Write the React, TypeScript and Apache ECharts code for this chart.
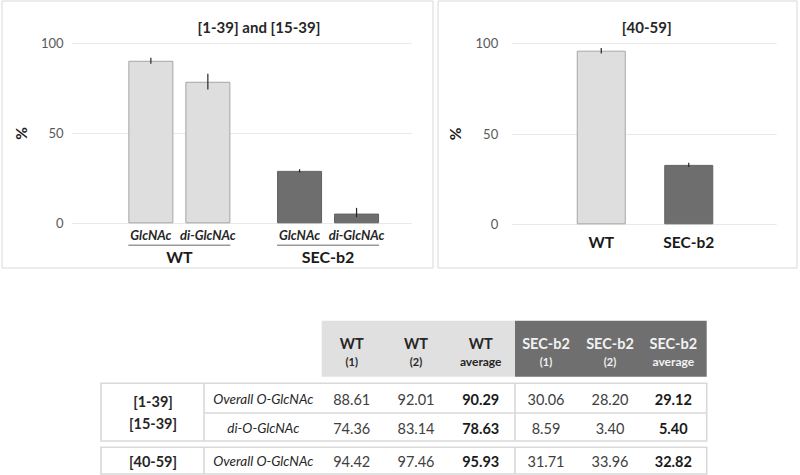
import React, { useEffect, useRef } from "react";
import * as echarts from "echarts";

// ---------- data ----------
const groups = ["WT", "SEC-b2"];
const subLabels = ["GlcNAc", "di-GlcNAc"];
const titleLeft = "[1-39] and [15-39]";
const titleRight = "[40-59]";
const yTicks = [0, 50, 100];

const headerTop = ["WT", "WT", "WT", "SEC-b2", "SEC-b2", "SEC-b2"];
const headerSub = ["(1)", "(2)", "average", "(1)", "(2)", "average"];
const rowRegions = ["[1-39]\n[15-39]", "[40-59]"];
const rowLabels = ["Overall O-GlcNAc", "di-O-GlcNAc", "Overall O-GlcNAc"];

const wt1 = [88.61, 74.36, 94.42];
const wt2 = [92.01, 83.14, 97.46];
const wtAvg = [90.29, 78.63, 95.93];
const sec1 = [30.06, 8.59, 31.71];
const sec2 = [28.2, 3.4, 33.96];
const secAvg = [29.12, 5.4, 32.82];

// ---------- styles ----------
const FONT = "Lato";
const LIGHT = "#dedede";
const LIGHT_BORDER = "#a6a6a6";
const DARK = "#6e6e6e";
const DARK_BORDER = "#626262";
const GRID_LINE = "#e9e9e9";
const PANEL_BORDER = "#d9d9d9";
const BAR_W_L = 45;
const BAR_GAP_L = 12;
const BAR_W_R = 49;

const lo = (a: number, b: number) => Math.min(a, b);
const hi = (a: number, b: number) => Math.max(a, b);

function errorSeries(name: string, xIdx: number, data: number[][], offset: number) {
  return {
    type: "custom",
    name,
    xAxisIndex: xIdx,
    yAxisIndex: xIdx,
    z: 10,
    encode: { x: 0, y: [1, 2] },
    data,
    renderItem: (_p: any, api: any) => {
      const a = api.coord([api.value(0), api.value(1)]);
      const b = api.coord([api.value(0), api.value(2)]);
      return {
        type: "line",
        shape: { x1: a[0] + offset, y1: a[1], x2: b[0] + offset, y2: b[1] },
        style: { stroke: "#262626", lineWidth: 1.2 },
      };
    },
  };
}

function txt(x: number, y: number, text: string, size: number, opts: any = {}) {
  return {
    type: "text",
    x,
    y,
    silent: true,
    style: {
      text,
      fontFamily: FONT,
      fontSize: size,
      fontWeight: opts.bold ? "bold" : "normal",
      fontStyle: opts.italic ? "italic" : "normal",
      fill: opts.fill || "#404040",
      align: "center",
      verticalAlign: "middle",
      textAlign: "center",
      textVerticalAlign: "middle",
      lineHeight: opts.lineHeight || size * 1.2,
    },
  };
}

function buildTable() {
  const els: any[] = [];
  const colX = [351.7, 416, 480.7, 546, 610, 673.3];
  const xL = 101, xC1 = 204, xMid = 515, xR = 706.7, xHead = 321.7;
  const hTop = 320.7, hBot = 376.7;
  // header blocks
  els.push({ type: "rect", shape: { x: xHead, y: hTop, width: xMid - xHead, height: hBot - hTop }, style: { fill: "#e0e0e0" } });
  els.push({ type: "rect", shape: { x: xMid, y: hTop, width: xR - xMid, height: hBot - hTop }, style: { fill: "#6f6f6f" } });
  headerTop.forEach((t, i) => {
    const dark = i >= 3;
    const fill = dark ? "#f2f2f2" : "#262626";
    els.push(txt(colX[i], 343.3, t, 14.5, { bold: true, fill }));
    els.push(txt(colX[i], 361, headerSub[i], headerSub[i] === "average" ? 12 : 11, { bold: true, fill }));
  });
  // body borders
  const blocks = [
    { y0: 383.3, y1: 441 },
    { y0: 447.3, y1: 474 },
  ];
  const lineStyle = { stroke: PANEL_BORDER, lineWidth: 1.6 };
  blocks.forEach((b) => {
    els.push({ type: "rect", shape: { x: xL, y: b.y0, width: xR - xL, height: b.y1 - b.y0 }, style: { fill: "none", ...lineStyle } });
    els.push({ type: "line", shape: { x1: xC1, y1: b.y0, x2: xC1, y2: b.y1 }, style: lineStyle });
    els.push({ type: "line", shape: { x1: xMid, y1: b.y0, x2: xMid, y2: b.y1 }, style: lineStyle });
  });
  els.push({ type: "line", shape: { x1: xC1, y1: 413, x2: xR, y2: 413 }, style: lineStyle });
  // region labels
  els.push(txt(153, 412.5, rowRegions[0], 14.5, { bold: true, fill: "#262626", lineHeight: 21.6 }));
  els.push(txt(153, 461, rowRegions[1], 14.5, { bold: true, fill: "#262626" }));
  // row labels and values
  const rowY = [399, 428.3, 461];
  const cols = [wt1, wt2, wtAvg, sec1, sec2, secAvg];
  rowLabels.forEach((r, ri) => {
    els.push(txt(263.3, rowY[ri], r, 13.5, { italic: true, fill: "#262626" }));
    cols.forEach((c, ci) => {
      const bold = ci === 2 || ci === 5;
      els.push(txt(colX[ci], rowY[ri], c[ri].toFixed(2), 14.5, { bold, fill: bold ? "#1a1a1a" : "#404040" }));
    });
  });
  return els;
}

export default function App() {
  const ref = useRef<HTMLDivElement>(null);
  useEffect(() => {
    if (!ref.current) return;
    const chart = echarts.init(ref.current, undefined, { renderer: "svg" });

    const yAxisVisible = (grid: number, margin: number, nameGap: number) => ({
      type: "value",
      gridIndex: grid,
      min: yTicks[0],
      max: yTicks[yTicks.length - 1],
      interval: yTicks[1] - yTicks[0],
      name: "%",
      nameLocation: "middle",
      nameRotate: 90,
      nameGap,
      nameTextStyle: { fontFamily: FONT, fontSize: 15.5, fontWeight: "bold", color: "#1a1a1a" },
      axisLine: { show: false },
      axisTick: { show: false },
      axisLabel: { fontFamily: FONT, fontSize: 13, color: "#595959", margin },
      splitLine: { lineStyle: { color: GRID_LINE, width: 1 } },
    });
    const yAxisHidden = (grid: number) => ({
      type: "value",
      gridIndex: grid,
      min: yTicks[0],
      max: yTicks[yTicks.length - 1],
      show: false,
    });

    const barItem = (v: number, gi: number) => ({
      value: v,
      itemStyle: {
        color: gi === 0 ? LIGHT : DARK,
        borderColor: gi === 0 ? LIGHT_BORDER : DARK_BORDER,
        borderWidth: 1,
      },
    });

    const option: any = {
      animation: false,
      textStyle: { fontFamily: FONT },
      title: [
        {
          text: titleLeft,
          left: 254,
          top: 14,
          textAlign: "center",
          textStyle: { fontFamily: FONT, fontSize: 15, fontWeight: "bold", color: "#262626" },
        },
        {
          text: titleRight,
          left: 641.7,
          top: 14,
          textAlign: "center",
          textStyle: { fontFamily: FONT, fontSize: 15, fontWeight: "bold", color: "#262626" },
        },
      ],
      grid: [
        { left: 72, top: 43.3, width: 340, height: 180 },
        { left: 105, top: 43.3, width: 297.4, height: 180 },
        { left: 511.7, top: 43.3, width: 265, height: 181 },
        { left: 557.5, top: 43.3, width: 175, height: 181 },
      ],
      xAxis: [
        { type: "value", gridIndex: 0, min: 0, max: 1, show: false },
        {
          type: "category",
          gridIndex: 1,
          data: groups,
          axisLine: { show: false },
          axisTick: { show: false },
          axisLabel: {
            margin: 4,
            interval: 0,
            formatter: (v: string) =>
              subLabels.map((s) => `{s|${s}}`).join("") + `\n{line| }\n{g|${v}}`,
            rich: {
              s: {
                width: BAR_W_L + BAR_GAP_L,
                align: "center",
                fontFamily: FONT,
                fontSize: 13,
                fontWeight: "bold",
                fontStyle: "italic",
                color: "#262626",
                lineHeight: 16,
              },
              line: {
                width: 2 * BAR_W_L + BAR_GAP_L,
                height: 1.5,
                lineHeight: 4,
                backgroundColor: "#9a9a9a",
                fontSize: 1,
              },
              g: {
                fontFamily: FONT,
                fontSize: 16,
                fontWeight: "bold",
                color: "#1a1a1a",
                lineHeight: 19,
              },
            },
          },
        },
        { type: "value", gridIndex: 2, min: 0, max: 1, show: false },
        {
          type: "category",
          gridIndex: 3,
          data: groups,
          axisLine: { show: false },
          axisTick: { show: false },
          axisLabel: {
            margin: 10,
            interval: 0,
            fontFamily: FONT,
            fontSize: 15.5,
            fontWeight: "bold",
            color: "#1a1a1a",
          },
        },
      ],
      yAxis: [
        yAxisVisible(0, 8.5, 43),
        yAxisHidden(1),
        yAxisVisible(2, 13.5, 48.7),
        yAxisHidden(3),
      ],
      series: [
        {
          type: "bar",
          name: subLabels[0],
          xAxisIndex: 1,
          yAxisIndex: 1,
          barWidth: BAR_W_L,
          barGap: `${((BAR_GAP_L / BAR_W_L) * 100).toFixed(2)}%`,
          data: [barItem(wtAvg[0], 0), barItem(secAvg[0], 1)],
        },
        {
          type: "bar",
          name: subLabels[1],
          xAxisIndex: 1,
          yAxisIndex: 1,
          barWidth: BAR_W_L,
          barGap: `${((BAR_GAP_L / BAR_W_L) * 100).toFixed(2)}%`,
          data: [barItem(wtAvg[1], 0), barItem(secAvg[1], 1)],
        },
        errorSeries(
          "err-" + subLabels[0],
          1,
          [
            [0, lo(wt1[0], wt2[0]), hi(wt1[0], wt2[0])],
            [1, lo(sec1[0], sec2[0]), hi(sec1[0], sec2[0])],
          ],
          -(BAR_W_L + BAR_GAP_L) / 2
        ),
        errorSeries(
          "err-" + subLabels[1],
          1,
          [
            [0, lo(wt1[1], wt2[1]), hi(wt1[1], wt2[1])],
            [1, lo(sec1[1], sec2[1]), hi(sec1[1], sec2[1])],
          ],
          (BAR_W_L + BAR_GAP_L) / 2
        ),
        {
          type: "bar",
          name: titleRight,
          xAxisIndex: 3,
          yAxisIndex: 3,
          barWidth: BAR_W_R,
          data: [barItem(wtAvg[2], 0), barItem(secAvg[2], 1)],
        },
        errorSeries(
          "err-" + titleRight,
          3,
          [
            [0, lo(wt1[2], wt2[2]), hi(wt1[2], wt2[2])],
            [1, lo(sec1[2], sec2[2]), hi(sec1[2], sec2[2])],
          ],
          0
        ),
      ],
      graphic: [
        {
          type: "rect",
          silent: true,
          shape: { x: 2, y: 1, width: 431, height: 267 },
          style: { fill: "none", stroke: PANEL_BORDER, lineWidth: 1 },
        },
        {
          type: "rect",
          silent: true,
          shape: { x: 438, y: 1, width: 359, height: 267 },
          style: { fill: "none", stroke: PANEL_BORDER, lineWidth: 1 },
        },
        ...buildTable(),
      ],
    };
    chart.setOption(option);
    return () => chart.dispose();
  }, []);

  return (
    <div
      ref={ref}
      style={{ position: "absolute", left: 0, top: 0, width: 800, height: 475, background: "#ffffff" }}
    />
  );
}
